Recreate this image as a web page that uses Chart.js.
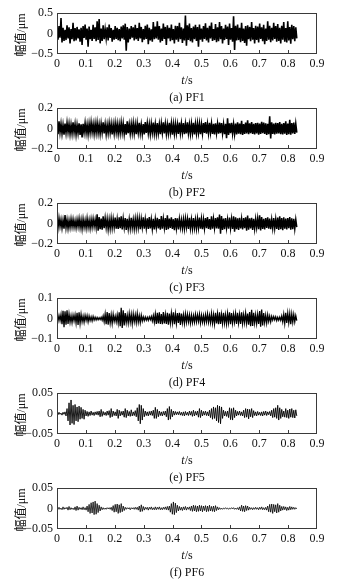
<!DOCTYPE html>
<html><head><meta charset="utf-8">
<script src="https://cdn.jsdelivr.net/npm/chart.js@4/dist/chart.umd.min.js"></script>
<style>
body{margin:0;background:#fff;width:348px;height:582px;position:relative;overflow:hidden;font-family:"Liberation Serif",serif;}
.panel{position:absolute;left:0;width:348px;height:95px;}
.cap,.xt{position:absolute;left:137px;width:100px;text-align:center;font-size:12px;line-height:14px;color:#111;white-space:nowrap;z-index:2;}
.yt{position:absolute;left:20px;font-size:12px;line-height:14px;transform:translate(-50%,-50%) rotate(-90deg);white-space:nowrap;color:#111;z-index:2;}
.cjk{font-family:"Noto Sans CJK SC",sans-serif;}
</style></head><body>
<script>
// sampling span of every signal (s)
const T_END = 0.83;

// PF1 amplitude, unit 0.01 µm
const pf1 = [
12,-15,18,-10,38,-22,14,-18,9,-16,20,-12,15,-24,11,-14,26,-19,13,-17,
16,-12,10,-20,14,-28,18,-11,22,-15,12,-32,17,-14,9,-18,21,-13,15,-19,
30,-16,35,-24,12,-18,20,-14,10,-12,15,-17,22,-11,13,-20,9,-15,18,-13,
14,-16,11,-19,17,-12,20,-15,24,-42,16,-22,12,-14,18,-10,15,-17,21,-14,
13,-18,26,-12,16,-21,11,-15,19,-13,22,-26,14,-17,10,-20,28,-14,17,-12,
30,-15,18,-22,12,-18,24,-13,16,-28,20,-12,14,-19,22,-16,11,-24,19,-15,
18,-20,26,-14,15,-23,12,-17,44,-30,20,-16,24,-19,13,-22,17,-14,21,-18,
16,-32,22,-15,12,-20,18,-13,25,-17,14,-22,19,-12,27,-18,11,-16,23,-21,
15,-19,28,-14,18,-24,12,-16,21,-13,17,-28,24,-15,13,-20,42,-40,19,-17,
22,-16,14,-21,26,-18,12,-23,18,-30,20,-14,16,-19,28,-15,13,-24,19,-16,
17,-22,24,-13,15,-19,21,-26,12,-18,30,-15,19,-21,14,-17,26,-13,18,-20,
23,-18,14,-24,19,-15,28,-20,13,-22,30,-17,16,-25,21,-14,18,-19,15,-12];

// PF2 amplitude, unit 0.001 µm
const pf2 = [
40,-55,70,-38,45,-50,35,-60,48,-42,55,-36,44,-52,38,-47,60,-40,42,-58,
36,-45,50,-62,40,-88,46,-38,52,-44,38,-56,45,-40,58,-36,42,-50,47,-41,
55,-43,38,-52,46,-39,60,-48,41,-54,36,-45,50,-40,44,-58,39,-47,52,-38,
45,-50,40,-44,56,-38,48,-52,42,-60,70,-46,38,-50,44,-42,52,-48,40,-55,
48,-40,55,-46,38,-52,44,-58,62,-42,50,-45,40,-54,46,-38,58,-48,42,-50,
52,-45,40,-56,47,-42,60,-48,44,-52,38,-46,55,-40,48,-60,42,-50,46,-44,
40,-52,58,-44,48,-40,52,-55,42,-48,60,-45,40,-52,47,-42,55,-58,44,-46,
50,-42,46,-56,40,-48,54,-44,62,-50,42,-46,55,-40,48,-52,45,-58,50,-44,
44,-50,58,-45,52,-48,40,-56,46,-95,100,-62,50,-46,55,-48,42,-52,47,-58,
60,-50,48,-55,75,-62,44,-52,58,-48,80,-56,50,-46,62,-54,45,-58,52,-48,
55,-60,48,-52,64,-46,58,-54,50,-62,46,-56,118,-98,60,-52,48,-58,55,-50,
52,-48,62,-55,46,-58,54,-50,70,-62,48,-56,84,-60,52,-48,58,-54,46,-40];

// PF3 amplitude, unit 0.001 µm
const pf3 = [
30,-42,50,-28,38,-45,32,-50,82,-40,35,-48,30,-38,44,-32,40,-36,28,-42,
38,-30,46,-40,34,-52,42,-36,30,-44,48,-38,32,-46,40,-34,45,-30,36,-40,
90,-70,62,-55,48,-60,70,-45,52,-40,44,-56,38,-48,50,-42,46,-38,58,-50,
42,-52,60,-46,70,-58,48,-40,54,-62,45,-50,40,-46,56,-42,38,-50,46,-44,
52,-40,48,-56,44,-38,60,-50,42,-46,50,-54,62,-48,40,-52,46,-58,44,-40,
56,-48,44,-60,72,-50,46,-42,54,-64,80,-56,48,-44,60,-52,42,-66,52,-46,
50,-58,44,-40,36,-46,40,-50,48,-38,44,-52,56,-46,40,-48,52,-44,38,-50,
46,-42,58,-50,44,-56,40,-48,54,-46,62,-52,42,-60,70,-50,46,-44,52,-48,
60,-50,88,-100,72,-62,48,-56,52,-44,40,-50,58,-46,44,-52,70,-80,60,-56,
50,-62,56,-48,44,-58,52,-46,60,-70,78,-60,50,-48,56,-62,46,-52,44,-40,
48,-56,80,-68,62,-54,46,-58,52,-44,60,-50,48,-56,40,-46,54,-48,42,-52,
58,-64,70,-56,52,-66,60,-50,48,-58,54,-46,62,-60,50,-56,46,-52,40,-36];

// PF4 amplitude, unit 0.001 µm
const pf4 = [
8,-12,15,-10,20,-28,38,-42,35,-30,40,-26,22,-18,14,-20,16,-12,18,-22,
28,-32,30,-24,20,-16,12,-18,15,-10,14,-16,12,-10,8,-12,10,-8,6,-7,
5,-6,4,-5,6,-8,12,-16,22,-28,32,-30,26,-22,18,-24,20,-14,12,-16,
18,-22,30,-38,52,-46,40,-34,26,-20,16,-22,24,-18,20,-26,22,-16,18,-20,
24,-18,14,-20,16,-12,8,-10,7,-8,6,-9,8,-6,10,-12,14,-18,22,-26,
28,-24,30,-26,22,-28,32,-24,20,-26,28,-30,24,-22,26,-20,30,-28,22,-24,
26,-22,28,-32,24,-20,18,-24,22,-18,20,-16,18,-22,16,-20,14,-18,20,-16,
18,-14,20,-22,16,-18,14,-20,18,-16,22,-18,15,-20,24,-22,18,-26,28,-24,
22,-28,30,-26,20,-24,28,-22,18,-26,24,-20,30,-28,26,-22,20,-18,24,-26,
28,-22,20,-26,30,-24,18,-20,26,-22,24,-30,32,-38,42,-36,28,-22,18,-24,
20,-26,36,-40,44,-34,26,-20,16,-22,18,-14,12,-16,10,-8,9,-7,8,-10,
6,-8,7,-9,12,-16,20,-24,28,-22,26,-20,24,-28,22,-18,20,-16,14,-10];

// PF5 amplitude, unit 0.001 µm
const pf5 = [
2,-3,3,-2,1,-4,3,-2,4,-6,12,-18,26,-28,33,-24,20,-27,22,-18,
16,-20,18,-14,15,-12,10,-14,8,-6,5,-7,4,-5,6,-4,3,-5,4,-3,
5,-4,6,-8,10,-7,5,-4,3,-5,6,-4,7,-10,12,-8,6,-5,4,-6,
10,-12,8,-6,5,-4,6,-9,12,-10,8,-6,5,-7,9,-6,4,-5,7,-8,
14,-18,22,-25,20,-16,12,-8,6,-5,4,-6,5,-4,6,-5,8,-12,15,-12,
10,-8,6,-5,4,-6,5,-4,6,-8,12,-16,17,-14,10,-8,6,-4,5,-3,
4,-3,5,-4,3,-5,4,-6,5,-4,3,-5,6,-4,5,-7,8,-6,5,-4,
6,-9,12,-10,8,-6,5,-4,6,-5,4,-6,8,-10,12,-14,16,-12,14,-18,
20,-22,18,-25,16,-12,8,-6,5,-7,6,-10,14,-15,12,-16,14,-10,8,-6,
5,-4,6,-5,4,-6,8,-10,12,-9,11,-13,10,-8,12,-10,7,-5,4,-6,
5,-4,3,-5,4,-6,5,-4,6,-5,4,-3,5,-6,8,-10,12,-9,14,-12,
20,-16,14,-12,10,-8,6,-9,12,-10,8,-12,11,-9,12,-10,8,-11,9,-6];

// PF6 amplitude, unit 0.001 µm
const pf6 = [
1,-2,3,-2,1,-3,4,-2,2,-1,3,-4,5,-3,2,-2,1,-3,4,-5,
6,-4,3,-2,2,-3,4,-3,2,-4,6,-8,10,-12,14,-11,16,-15,18,-14,
12,-10,8,-6,4,-3,2,-2,1,-2,2,-1,2,-2,3,-5,7,-9,10,-8,
11,-12,9,-10,12,-8,6,-5,3,-2,2,-1,2,-3,2,-1,2,-2,3,-2,
3,-4,6,-8,9,-7,5,-4,3,-2,3,-4,3,-2,4,-3,2,-3,4,-3,
3,-2,4,-3,2,-3,3,-2,4,-3,5,-4,6,-9,12,-14,16,-15,13,-10,
8,-6,5,-4,3,-5,4,-3,5,-4,3,-2,4,-5,6,-7,8,-6,7,-8,
6,-7,8,-6,7,-8,6,-5,7,-8,6,-7,8,-6,5,-7,6,-8,7,-5,
4,-3,2,-2,1,-2,1,-1,2,-1,1,-2,1,-1,2,-1,2,-2,1,-2,
2,-3,4,-6,8,-7,6,-8,7,-5,6,-4,3,-2,2,-3,2,-2,3,-2,
2,-3,3,-2,4,-3,2,-3,3,-4,6,-8,10,-9,11,-12,10,-8,9,-11,
12,-9,8,-6,5,-4,5,-3,4,-5,3,-4,5,-3,4,-2,3,-2,2,-1];

const signals = [pf1, pf2, pf3, pf4, pf5, pf6];
const units = [0.01, 0.001, 0.001, 0.001, 0.001, 0.001];
const captions = ['(a) PF1', '(b) PF2', '(c) PF3', '(d) PF4', '(e) PF5', '(f) PF6'];
const lineWidths = [1.6, 1.6, 1.5, 1.3, 0.9, 0.8];

const xTickValues = [0, 0.1, 0.2, 0.3, 0.4, 0.5, 0.6, 0.7, 0.8, 0.9];
const xTickLabels = ['0', '0.1', '0.2', '0.3', '0.4', '0.5', '0.6', '0.7', '0.8', '0.9'];

const yTickValues = [[-0.5,0,0.5],[-0.2,0,0.2],[-0.2,0,0.2],[-0.1,0,0.1],[-0.05,0,0.05],[-0.05,0,0.05]];
const yTickLabels = [['\u22120.5','0','0.5'],['\u22120.2','0','0.2'],['\u22120.2','0','0.2'],['\u22120.1','0','0.1'],['\u22120.05','0','0.05'],['\u22120.05','0','0.05']];

const PANEL_H = 95;

const framePlugin = {
  id: 'frame',
  afterDraw(c) {
    const { ctx, chartArea: a } = c;
    const x = c.scales.x;
    ctx.save();
    ctx.strokeStyle = '#3a3a3a';
    ctx.lineWidth = 1;
    ctx.strokeRect(Math.round(a.left) + 0.5, Math.round(a.top) + 0.5,
      Math.round(a.right - a.left) - 1, Math.round(a.bottom - a.top) - 1);
    ctx.beginPath();
    xTickValues.forEach((v, i) => {
      if (i === 0 || i === xTickValues.length - 1) return;
      const px = Math.round(x.getPixelForValue(v)) + 0.5;
      ctx.moveTo(px, a.bottom - 1);
      ctx.lineTo(px, a.bottom - 4);
    });
    ctx.stroke();
    ctx.restore();
  }
};

const tickFont = { family: 'Liberation Serif', size: 12 };

signals.forEach((arr, k) => {
  const top = k * PANEL_H;
  const div = document.createElement('div');
  div.className = 'panel';
  div.style.top = top + 'px';
  const cv = document.createElement('canvas');
  cv.width = 348; cv.height = PANEL_H;
  cv.style.width = '348px'; cv.style.height = PANEL_H + 'px';
  div.appendChild(cv);
  document.body.appendChild(div);

  const pts = arr.map((v, i) => ({ x: i * T_END / (arr.length - 1), y: v * units[k] }));
  const yv = yTickValues[k], yl = yTickLabels[k];

  new Chart(cv, {
    type: 'line',
    data: { datasets: [{ data: pts, borderColor: '#000', borderWidth: lineWidths[k],
      pointRadius: 0, tension: 0, fill: false, borderJoinStyle: 'miter' }] },
    options: {
      responsive: false, animation: false, events: [],
      layout: { padding: { left: 0, right: 31, top: 13, bottom: 0 } },
      plugins: { legend: { display: false }, tooltip: { enabled: false } },
      scales: {
        x: {
          type: 'linear', min: 0, max: 0.9,
          grid: { display: false, drawTicks: false }, border: { display: false },
          afterBuildTicks: s => { s.ticks = xTickValues.map(v => ({ value: v })); },
          afterFit: s => { s.height = PANEL_H - 54; },
          ticks: { padding: 3, autoSkip: false, maxRotation: 0, font: tickFont, color: '#111',
            callback: (v, i) => xTickLabels[i] }
        },
        y: {
          type: 'linear', min: yv[0], max: yv[2],
          grid: { display: false, drawTicks: false }, border: { display: false },
          afterBuildTicks: s => { s.ticks = yv.map(v => ({ value: v })); },
          afterFit: s => { s.width = 57; },
          ticks: { padding: 4, autoSkip: false, font: tickFont, color: '#111',
            callback: (v, i) => yl[i] }
        }
      }
    },
    plugins: [framePlugin]
  });

  const yt = document.createElement('div');
  yt.className = 'yt';
  yt.style.top = (top + 35) + 'px';
  yt.innerHTML = '<span class="cjk">幅值</span>/μm';
  document.body.appendChild(yt);

  const xt = document.createElement('div');
  xt.className = 'xt';
  xt.style.top = (top + 73) + 'px';
  xt.innerHTML = '<i>t</i>/s';
  document.body.appendChild(xt);

  const cap = document.createElement('div');
  cap.className = 'cap';
  cap.style.top = (top + 90) + 'px';
  cap.textContent = captions[k];
  document.body.appendChild(cap);
});
</script>
</body></html>
